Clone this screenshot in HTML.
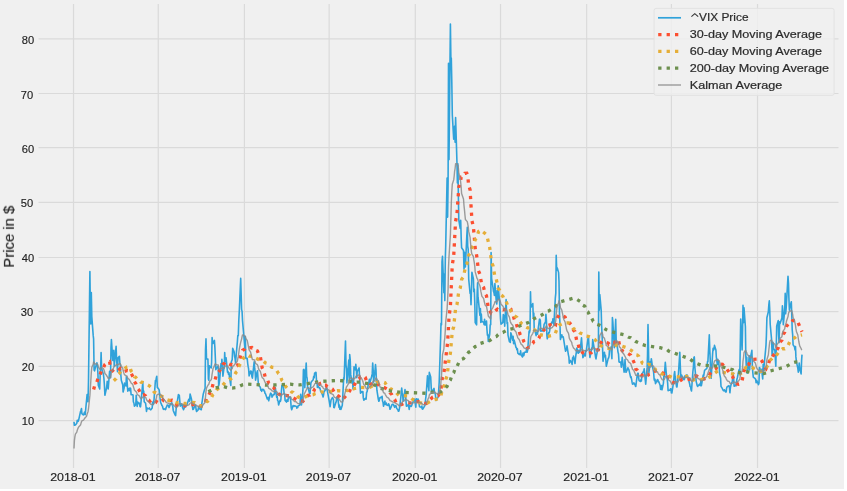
<!DOCTYPE html>
<html><head><meta charset="utf-8"><style>
html,body{margin:0;padding:0;background:#fff;}
body{width:847px;height:491px;overflow:hidden;}
svg{display:block;font-family:"Liberation Sans", sans-serif;}
text{will-change:transform;}
</style></head><body>
<svg width="847" height="491" viewBox="0 0 847 491">
<rect x="0" y="0" width="844" height="489" fill="#f0f0f0"/>
<path d="M38.5,420.56H838.5M38.5,366.40H838.5M38.5,311.56H838.5M38.5,257.50H838.5M38.5,202.43H838.5M38.5,147.60H838.5M38.5,93.49H838.5M38.5,38.85H838.5M73.51,4.0V468.0M158.25,4.0V468.0M244.40,4.0V468.0M329.15,4.0V468.0M415.30,4.0V468.0M500.51,4.0V468.0M586.66,4.0V468.0M671.40,4.0V468.0M757.55,4.0V468.0" stroke="#dadada" stroke-width="1.2" fill="none"/>
<text x="34.2" y="425.3" text-anchor="end" font-size="11" textLength="12.4" lengthAdjust="spacingAndGlyphs" fill="#222" stroke="#222" stroke-width="0.15">10</text>
<text x="34.2" y="370.6" text-anchor="end" font-size="11" textLength="12.4" lengthAdjust="spacingAndGlyphs" fill="#222" stroke="#222" stroke-width="0.15">20</text>
<text x="33.2" y="316.1" text-anchor="end" font-size="11" textLength="12.4" lengthAdjust="spacingAndGlyphs" fill="#222" stroke="#222" stroke-width="0.15">30</text>
<text x="34.2" y="261.7" text-anchor="end" font-size="11" textLength="12.4" lengthAdjust="spacingAndGlyphs" fill="#222" stroke="#222" stroke-width="0.15">40</text>
<text x="33.2" y="207.1" text-anchor="end" font-size="11" textLength="12.4" lengthAdjust="spacingAndGlyphs" fill="#222" stroke="#222" stroke-width="0.15">50</text>
<text x="34.2" y="152.8" text-anchor="end" font-size="11" textLength="12.4" lengthAdjust="spacingAndGlyphs" fill="#222" stroke="#222" stroke-width="0.15">60</text>
<text x="33.2" y="98.9" text-anchor="end" font-size="11" textLength="12.4" lengthAdjust="spacingAndGlyphs" fill="#222" stroke="#222" stroke-width="0.15">70</text>
<text x="34.2" y="44.2" text-anchor="end" font-size="11" textLength="12.4" lengthAdjust="spacingAndGlyphs" fill="#222" stroke="#222" stroke-width="0.15">80</text>
<text x="72.9" y="481.2" text-anchor="middle" font-size="11" fill="#222" stroke="#222" stroke-width="0.15" textLength="45.5" lengthAdjust="spacingAndGlyphs">2018-01</text>
<text x="157.7" y="481.2" text-anchor="middle" font-size="11" fill="#222" stroke="#222" stroke-width="0.15" textLength="45.5" lengthAdjust="spacingAndGlyphs">2018-07</text>
<text x="243.8" y="481.2" text-anchor="middle" font-size="11" fill="#222" stroke="#222" stroke-width="0.15" textLength="45.5" lengthAdjust="spacingAndGlyphs">2019-01</text>
<text x="328.5" y="481.2" text-anchor="middle" font-size="11" fill="#222" stroke="#222" stroke-width="0.15" textLength="45.5" lengthAdjust="spacingAndGlyphs">2019-07</text>
<text x="414.7" y="481.2" text-anchor="middle" font-size="11" fill="#222" stroke="#222" stroke-width="0.15" textLength="45.5" lengthAdjust="spacingAndGlyphs">2020-01</text>
<text x="499.9" y="481.2" text-anchor="middle" font-size="11" fill="#222" stroke="#222" stroke-width="0.15" textLength="45.5" lengthAdjust="spacingAndGlyphs">2020-07</text>
<text x="586.1" y="481.2" text-anchor="middle" font-size="11" fill="#222" stroke="#222" stroke-width="0.15" textLength="45.5" lengthAdjust="spacingAndGlyphs">2021-01</text>
<text x="670.8" y="481.2" text-anchor="middle" font-size="11" fill="#222" stroke="#222" stroke-width="0.15" textLength="45.5" lengthAdjust="spacingAndGlyphs">2021-07</text>
<text x="757.0" y="481.2" text-anchor="middle" font-size="11" fill="#222" stroke="#222" stroke-width="0.15" textLength="45.5" lengthAdjust="spacingAndGlyphs">2022-01</text>
<text transform="translate(13.9,236.7) rotate(-90)" text-anchor="middle" font-size="14" fill="#222" stroke="#222" stroke-width="0.18" textLength="62" lengthAdjust="spacingAndGlyphs">Price in $</text>
<path d="M74.0,421.9 L74.4,425.3 L74.9,424.9 L75.4,424.9 L76.8,423.2 L77.3,420.2 L77.7,421.6 L78.2,421.3 L78.7,419.8 L80.5,411.6 L81.0,410.2 L81.5,408.5 L81.9,413.7 L83.3,415.0 L83.8,414.6 L84.3,412.6 L84.7,412.0 L85.2,414.7 L86.6,399.7 L87.1,394.5 L87.6,401.3 L88.0,401.7 L88.5,380.7 L89.9,271.5 L90.4,311.6 L90.8,323.9 L91.3,292.6 L91.8,316.6 L93.2,335.4 L93.6,338.9 L94.1,370.1 L94.6,370.8 L95.0,369.0 L96.9,362.8 L97.4,366.0 L97.9,373.0 L98.3,385.2 L99.7,389.0 L100.2,373.8 L100.7,366.9 L101.1,352.6 L101.6,368.3 L103.0,373.0 L103.5,375.0 L103.9,378.3 L104.4,384.9 L104.9,395.3 L106.3,389.1 L106.8,386.0 L107.2,381.2 L107.7,384.7 L108.2,389.0 L109.6,371.4 L110.0,375.9 L110.5,377.7 L111.0,347.8 L111.4,339.5 L112.8,360.4 L113.3,352.4 L113.8,350.4 L114.2,366.2 L116.1,346.3 L116.6,360.1 L117.1,365.7 L117.5,371.8 L118.0,357.9 L119.4,356.4 L119.9,363.5 L120.3,364.8 L120.8,374.3 L121.3,380.2 L122.7,384.8 L123.1,392.0 L123.6,390.1 L124.1,388.1 L124.5,383.1 L125.9,386.0 L126.4,376.9 L126.9,377.8 L127.4,386.6 L127.8,391.1 L129.2,388.3 L129.7,390.7 L130.2,388.1 L130.6,388.4 L131.1,394.6 L132.5,394.7 L133.0,394.9 L133.4,402.0 L133.9,403.0 L134.4,406.2 L135.8,404.6 L136.2,395.4 L136.7,402.0 L137.2,406.5 L137.7,402.0 L139.1,403.8 L139.5,403.1 L140.0,406.6 L140.5,406.8 L140.9,403.1 L142.8,382.3 L143.3,393.7 L143.7,391.0 L144.2,401.7 L145.6,403.3 L146.1,407.5 L146.5,411.4 L147.0,407.8 L147.5,408.7 L148.9,408.8 L149.4,407.9 L149.8,409.1 L150.3,409.5 L150.8,409.8 L152.2,408.0 L152.6,402.3 L153.1,404.6 L153.6,401.2 L154.0,400.1 L155.4,380.6 L155.9,380.7 L156.4,377.5 L156.8,376.3 L157.3,387.4 L158.7,389.0 L159.2,390.1 L160.1,398.7 L160.6,402.2 L162.0,405.6 L162.5,406.2 L162.9,408.0 L163.4,409.3 L163.9,408.7 L165.3,409.7 L165.7,409.4 L166.2,407.3 L166.7,406.8 L167.2,405.0 L168.6,405.6 L169.0,407.5 L169.5,406.6 L170.0,405.2 L170.4,404.1 L171.8,402.7 L172.3,405.2 L172.8,406.6 L173.2,410.2 L173.7,411.7 L175.1,414.8 L175.6,415.6 L176.0,410.8 L176.5,404.8 L177.0,403.4 L178.4,394.5 L178.9,395.4 L179.3,395.3 L179.8,401.1 L180.3,406.2 L181.7,403.9 L182.1,405.0 L182.6,407.8 L183.1,408.6 L183.5,409.8 L184.9,406.5 L185.4,407.0 L185.9,405.5 L186.3,405.6 L186.8,405.0 L188.7,399.4 L189.2,399.3 L189.6,401.1 L190.1,394.0 L191.5,399.3 L192.0,403.1 L192.4,406.5 L192.9,409.5 L193.4,409.3 L194.8,406.0 L195.2,405.4 L195.7,406.5 L196.2,410.0 L196.6,411.5 L198.1,409.9 L198.5,407.4 L199.0,407.9 L199.5,408.6 L199.9,409.1 L201.3,409.7 L201.8,403.7 L202.3,400.5 L202.7,397.6 L203.2,394.3 L204.6,389.6 L205.1,388.2 L205.5,349.9 L206.0,338.9 L206.5,358.9 L207.9,359.0 L208.4,379.0 L208.8,380.2 L209.3,365.7 L209.8,366.7 L211.2,368.0 L211.6,362.2 L212.1,337.5 L212.6,343.0 L213.0,343.4 L214.4,340.4 L214.9,347.8 L215.4,359.3 L215.8,369.7 L216.3,368.7 L217.7,366.3 L218.2,366.6 L218.7,385.9 L219.1,384.0 L219.6,380.5 L221.0,363.6 L221.5,366.0 L221.9,359.2 L222.4,366.2 L222.9,376.2 L224.3,365.5 L224.7,352.5 L225.2,361.7 L226.1,357.8 L227.5,372.1 L228.0,371.4 L228.5,374.3 L229.0,372.7 L229.4,376.6 L230.8,385.5 L231.3,362.0 L232.2,359.6 L232.7,348.4 L234.1,351.7 L234.6,356.5 L235.0,358.1 L235.5,362.5 L236.0,357.2 L237.4,341.4 L237.8,335.6 L238.3,335.6 L238.8,320.3 L239.3,310.9 L240.7,278.4 L241.6,309.3 L242.1,311.7 L242.5,320.5 L243.9,336.5 L244.9,348.5 L245.3,336.3 L245.8,358.5 L247.2,358.4 L247.7,363.5 L248.1,366.2 L248.6,368.8 L249.1,375.9 L250.5,371.1 L251.0,373.7 L251.4,371.3 L251.9,376.6 L252.4,378.1 L254.2,361.7 L254.7,368.7 L255.2,372.1 L255.6,380.1 L257.0,372.2 L257.5,370.8 L258.0,378.8 L258.4,384.8 L258.9,385.5 L260.3,387.2 L260.8,390.2 L261.3,390.3 L261.7,391.3 L262.2,389.4 L263.6,389.6 L264.1,391.0 L264.5,391.0 L265.0,393.2 L265.5,393.8 L267.3,398.9 L267.8,398.7 L268.3,397.4 L268.7,400.8 L270.2,394.2 L270.6,393.2 L271.1,393.6 L271.6,394.5 L272.0,397.2 L273.4,394.6 L273.9,394.8 L274.4,394.0 L274.8,388.7 L275.3,387.6 L276.7,397.3 L277.2,396.2 L277.6,400.5 L278.1,401.0 L278.6,404.9 L280.0,400.4 L280.5,401.2 L280.9,399.3 L281.4,391.4 L281.9,385.3 L283.3,386.1 L283.7,389.1 L284.2,394.2 L284.7,394.3 L285.1,400.4 L286.5,402.1 L287.0,399.7 L287.5,400.2 L287.9,401.3 L288.4,397.1 L289.8,397.8 L290.3,397.3 L290.8,402.0 L291.2,407.9 L291.7,409.7 L293.1,405.5 L293.6,406.1 L294.0,406.4 L294.5,405.7 L296.4,406.4 L296.8,408.2 L297.3,406.9 L297.8,407.4 L298.2,405.7 L299.7,405.3 L300.1,403.6 L300.6,394.4 L301.1,400.9 L301.5,405.0 L302.9,390.9 L303.4,369.8 L303.9,369.3 L304.3,371.0 L304.8,387.7 L306.2,363.1 L306.7,376.6 L307.1,377.9 L307.6,386.9 L308.1,388.1 L309.5,393.2 L310.0,393.6 L310.4,388.8 L310.9,382.9 L311.4,381.8 L313.2,379.7 L313.7,376.4 L314.2,377.8 L314.6,373.1 L316.0,372.3 L316.5,380.7 L317.0,382.4 L317.4,387.4 L317.9,385.5 L319.3,388.2 L319.8,387.8 L320.3,389.6 L320.7,391.5 L321.2,391.8 L322.6,395.2 L323.1,397.0 L323.5,395.4 L324.0,391.8 L324.5,391.2 L325.9,389.0 L326.3,386.4 L326.8,388.3 L327.3,390.9 L327.7,392.9 L329.1,400.3 L329.6,403.5 L330.1,406.6 L331.0,400.2 L332.4,397.5 L332.9,398.4 L333.4,399.3 L333.8,407.4 L334.3,407.6 L335.7,402.9 L336.2,401.6 L336.6,399.0 L337.1,396.8 L337.6,396.3 L339.0,407.4 L339.4,405.1 L339.9,409.3 L340.4,407.1 L340.9,409.4 L342.3,405.2 L342.7,397.8 L343.2,387.2 L343.7,377.7 L344.1,379.1 L345.5,341.0 L346.0,365.1 L346.5,368.8 L346.9,382.9 L347.4,377.1 L348.8,360.1 L349.3,379.6 L349.7,354.6 L350.2,359.6 L350.7,374.4 L352.1,383.1 L352.6,379.7 L353.0,389.0 L353.5,384.2 L354.0,366.8 L355.4,369.8 L355.8,364.4 L356.3,369.6 L356.8,377.6 L357.2,371.6 L359.1,367.9 L359.6,378.0 L360.0,384.8 L360.5,393.3 L361.9,391.5 L362.4,392.3 L362.9,391.6 L363.3,397.9 L363.8,400.2 L365.2,398.4 L365.7,399.1 L366.1,399.1 L366.6,392.5 L367.1,391.6 L368.5,383.2 L368.9,382.2 L369.4,379.3 L369.9,383.6 L370.3,381.2 L371.8,376.1 L372.2,373.9 L372.7,363.0 L373.2,370.9 L373.6,382.2 L375.0,370.7 L375.5,364.5 L376.0,370.0 L376.4,380.4 L376.9,390.2 L378.3,399.0 L378.8,401.3 L379.2,400.7 L379.7,398.0 L380.2,397.4 L381.6,397.7 L382.1,396.3 L382.5,401.0 L383.0,402.2 L383.5,406.2 L384.9,401.1 L385.3,404.4 L385.8,404.4 L386.3,403.1 L386.7,404.9 L388.1,405.5 L388.6,403.7 L389.1,404.9 L389.5,406.3 L390.0,409.3 L391.4,406.3 L391.9,404.8 L392.4,404.3 L392.8,404.3 L393.3,404.4 L394.7,407.3 L395.2,405.9 L395.6,405.5 L396.1,406.1 L396.6,408.1 L398.0,410.1 L398.4,411.3 L398.9,411.1 L399.8,406.3 L401.2,393.8 L401.7,388.1 L402.2,392.9 L402.7,395.3 L403.1,400.9 L404.5,393.1 L405.0,389.6 L405.5,395.4 L405.9,399.5 L406.4,406.3 L407.8,405.6 L408.3,404.2 L408.7,406.6 L409.2,409.4 L409.7,405.3 L411.1,406.4 L411.6,405.9 L412.5,402.8 L413.0,401.9 L414.4,399.2 L414.8,400.0 L415.8,407.2 L416.2,398.7 L417.6,399.6 L418.1,399.1 L418.6,401.8 L419.0,402.8 L419.5,406.7 L420.9,407.1 L421.4,407.6 L421.9,406.0 L422.3,409.0 L422.8,409.2 L424.7,405.8 L425.1,404.8 L425.6,399.0 L426.1,395.7 L427.5,375.7 L427.9,386.4 L428.4,385.8 L428.9,390.7 L429.3,372.4 L430.7,377.1 L431.2,387.6 L431.7,392.5 L432.2,392.6 L432.6,390.8 L434.0,388.4 L434.5,392.4 L435.0,393.5 L435.4,394.5 L435.9,400.5 L437.8,397.5 L438.2,396.7 L438.7,390.3 L439.2,382.0 L440.6,338.6 L441.0,323.2 L441.5,324.8 L442.0,261.5 L442.5,256.3 L443.9,292.8 L444.3,274.3 L444.8,300.6 L445.3,259.0 L445.7,246.3 L447.1,178.0 L447.6,217.1 L448.1,181.1 L448.5,63.4 L449.0,159.6 L450.4,24.0 L450.9,61.0 L451.3,58.0 L451.8,82.3 L452.3,114.8 L453.7,139.1 L454.2,138.7 L454.6,126.2 L455.1,142.3 L455.6,117.5 L457.0,163.7 L457.4,183.0 L457.9,163.8 L458.4,197.4 L458.8,219.8 L460.2,228.3 L460.7,220.4 L461.2,238.6 L461.6,247.8 L463.5,250.5 L464.0,269.1 L464.5,252.3 L464.9,256.3 L465.4,267.0 L466.8,236.0 L467.3,227.4 L467.7,246.1 L468.2,249.4 L468.7,279.1 L470.1,293.5 L470.5,292.0 L471.0,304.8 L471.5,288.8 L471.9,272.3 L473.4,278.9 L473.8,291.8 L474.3,289.0 L474.8,303.6 L475.2,322.5 L476.6,324.8 L477.1,294.9 L477.6,282.7 L478.0,297.2 L478.5,301.2 L479.9,315.3 L480.4,308.6 L480.8,322.5 L481.3,314.1 L481.8,321.5 L483.7,322.3 L484.1,324.5 L484.6,319.2 L485.1,325.1 L486.5,321.1 L486.9,328.7 L487.4,335.2 L487.9,334.4 L488.3,341.4 L489.7,334.4 L490.2,324.8 L490.7,324.8 L491.1,252.6 L491.6,278.3 L493.0,287.5 L493.5,291.5 L494.0,292.6 L494.4,295.4 L494.9,283.6 L496.3,301.8 L496.8,304.0 L497.2,290.5 L497.7,299.4 L498.2,285.7 L499.6,301.8 L500.0,309.1 L500.5,319.0 L501.0,324.2 L502.8,322.7 L503.3,314.6 L503.8,322.0 L504.3,315.5 L504.7,326.3 L506.1,299.5 L506.6,314.1 L507.1,323.7 L507.5,322.4 L508.0,335.1 L509.4,341.7 L509.9,339.6 L510.3,342.5 L510.8,332.9 L511.3,334.2 L512.7,340.2 L513.1,336.4 L513.6,343.7 L514.1,340.1 L514.6,341.7 L516.0,347.5 L516.4,347.7 L516.9,349.7 L517.4,348.9 L517.8,353.1 L519.2,354.4 L519.7,353.6 L520.2,354.7 L520.6,350.9 L521.1,354.9 L522.5,357.0 L523.0,353.0 L523.5,355.7 L523.9,355.5 L524.4,352.2 L525.8,352.2 L526.3,350.8 L526.7,348.2 L527.2,352.1 L527.7,349.9 L529.1,331.1 L529.5,332.7 L530.0,330.2 L530.5,291.8 L530.9,307.4 L532.8,303.5 L533.3,318.0 L533.8,313.1 L534.2,328.6 L535.6,333.4 L536.1,335.6 L536.6,332.2 L537.0,334.2 L537.5,334.2 L538.9,323.6 L539.4,319.5 L539.8,319.2 L540.3,320.3 L540.8,331.2 L542.2,330.5 L542.6,330.7 L543.1,331.3 L543.6,328.7 L544.1,324.4 L545.5,321.9 L545.9,314.3 L546.4,320.2 L546.9,335.7 L547.3,338.8 L548.7,332.6 L549.2,332.9 L549.7,330.5 L550.1,324.7 L550.6,325.6 L552.0,321.8 L552.5,322.8 L552.9,318.9 L553.4,320.8 L553.9,324.9 L555.3,298.1 L555.8,293.2 L556.2,255.4 L556.7,270.1 L557.2,267.7 L558.6,272.6 L559.0,281.2 L559.5,313.8 L560.0,324.7 L560.4,339.5 L561.8,334.7 L562.3,337.0 L562.8,336.6 L563.2,336.9 L563.7,339.6 L565.1,348.7 L565.6,351.3 L566.1,349.9 L566.5,349.8 L567.0,345.9 L568.4,354.8 L568.9,357.1 L569.3,363.1 L570.3,360.4 L571.7,362.9 L572.1,364.4 L572.6,357.8 L573.1,359.1 L573.5,356.1 L575.0,363.5 L575.4,359.0 L575.9,355.0 L576.4,352.0 L576.8,348.0 L578.2,353.3 L578.7,350.2 L579.2,352.4 L579.6,350.7 L580.1,351.2 L581.5,337.9 L582.0,345.2 L582.4,351.5 L582.9,357.7 L584.8,353.6 L585.3,356.0 L585.7,350.5 L586.2,351.1 L588.1,337.8 L588.5,336.9 L589.0,346.8 L589.5,352.3 L589.9,357.5 L591.3,350.5 L591.8,347.9 L592.3,347.5 L592.7,339.6 L593.2,342.4 L595.1,353.9 L595.6,357.4 L596.0,358.9 L596.5,355.6 L597.9,348.7 L598.4,349.6 L598.8,272.1 L599.3,310.3 L599.8,294.6 L601.2,310.2 L601.6,325.3 L602.1,335.7 L602.6,348.7 L603.0,361.3 L604.4,352.2 L604.9,356.8 L605.4,355.2 L605.9,360.4 L606.3,366.2 L608.2,358.4 L608.7,357.9 L609.1,355.8 L609.6,348.1 L611.0,347.2 L611.5,354.3 L611.9,358.7 L612.4,317.5 L612.9,322.7 L614.3,347.8 L614.7,336.7 L615.2,329.7 L615.7,319.3 L616.2,340.6 L617.6,348.8 L618.0,352.1 L618.5,354.0 L619.0,361.6 L619.4,362.3 L620.8,362.1 L621.3,367.2 L621.8,362.6 L622.2,357.4 L622.7,361.0 L624.1,372.2 L624.6,367.9 L625.0,359.5 L625.5,367.5 L626.0,372.3 L627.4,369.3 L627.9,367.8 L628.3,369.3 L628.8,369.4 L630.7,377.5 L631.1,376.8 L631.6,379.4 L632.1,382.4 L632.5,384.1 L633.9,382.8 L634.4,384.3 L634.9,384.0 L635.4,386.0 L635.8,386.5 L637.2,375.1 L637.7,373.3 L638.2,373.2 L638.6,377.7 L639.1,380.6 L640.5,381.5 L641.0,379.5 L641.4,380.9 L641.9,373.6 L642.4,373.6 L643.8,370.5 L644.2,368.9 L644.7,374.2 L645.2,379.3 L645.7,384.1 L647.1,367.9 L647.5,356.0 L648.0,324.6 L648.5,349.0 L648.9,372.6 L650.3,361.6 L650.8,365.7 L651.3,358.7 L651.7,361.2 L652.2,365.2 L653.6,372.0 L654.1,379.0 L654.5,380.5 L655.0,379.3 L655.5,383.7 L657.4,379.6 L657.8,379.8 L658.3,382.0 L658.8,381.7 L660.2,385.6 L660.6,389.4 L661.1,388.7 L661.6,385.6 L662.0,389.8 L663.4,383.3 L663.9,375.3 L664.4,376.2 L664.8,369.4 L665.3,362.2 L666.7,377.6 L667.2,378.8 L667.7,383.7 L668.1,390.8 L668.6,390.0 L670.0,390.3 L670.5,388.7 L670.9,388.8 L671.4,392.8 L671.9,393.0 L673.7,381.3 L674.2,374.4 L674.7,371.5 L675.1,376.7 L676.6,387.0 L677.0,386.9 L677.5,382.0 L678.0,375.9 L678.4,374.5 L679.8,352.4 L680.3,366.0 L680.8,377.5 L681.2,376.0 L681.7,375.2 L683.1,379.3 L683.6,378.3 L684.0,379.7 L684.5,379.1 L685.0,375.7 L686.4,376.4 L686.9,374.8 L687.3,376.8 L687.8,377.7 L688.3,378.6 L689.7,384.0 L690.1,386.5 L690.6,386.9 L691.1,390.0 L691.5,390.9 L692.9,371.5 L693.4,367.0 L693.9,357.5 L694.3,356.9 L694.8,366.6 L696.2,381.6 L696.7,383.5 L697.2,385.7 L697.6,386.5 L698.1,385.8 L699.5,384.2 L700.0,385.3 L700.4,385.6 L700.9,380.3 L701.4,385.7 L703.2,375.1 L703.7,376.1 L704.2,372.6 L704.6,370.3 L706.0,369.0 L706.5,369.0 L707.0,368.0 L707.5,361.6 L707.9,361.6 L709.3,334.9 L709.8,350.1 L710.3,361.3 L710.7,376.3 L711.2,378.3 L712.6,353.9 L713.1,348.3 L713.5,350.2 L714.0,348.9 L714.5,345.4 L715.9,349.9 L716.3,356.8 L716.8,360.6 L717.3,364.4 L717.8,359.3 L719.2,366.1 L719.6,373.3 L720.1,375.8 L720.6,378.5 L721.0,386.3 L722.4,388.7 L722.9,389.9 L723.4,390.7 L723.8,390.8 L724.3,389.8 L725.7,392.0 L726.2,392.0 L726.6,388.2 L727.1,386.9 L727.6,386.5 L729.0,385.7 L729.5,387.7 L729.9,392.8 L730.4,387.7 L730.9,385.3 L732.3,381.2 L732.7,378.2 L733.2,373.0 L733.7,378.8 L734.1,386.3 L735.5,385.2 L736.0,385.9 L736.5,381.8 L736.9,379.2 L737.4,377.5 L738.8,370.6 L739.3,369.4 L739.8,373.8 L740.7,319.0 L742.1,349.9 L742.6,326.8 L743.0,305.4 L743.5,322.7 L744.0,307.8 L745.4,326.9 L745.8,355.7 L746.3,366.6 L746.8,357.4 L747.2,373.2 L748.7,364.4 L749.1,355.7 L749.6,369.9 L750.1,362.9 L750.5,357.5 L751.9,350.4 L752.4,367.7 L752.9,373.5 L753.3,377.2 L755.2,378.7 L755.7,379.5 L756.1,382.7 L756.6,380.6 L757.1,381.2 L758.5,384.6 L759.0,382.9 L759.4,367.5 L759.9,368.2 L760.4,372.8 L761.8,369.3 L762.2,374.7 L762.7,379.0 L763.2,364.4 L763.6,370.5 L765.5,350.8 L766.0,345.1 L766.4,335.6 L766.9,317.8 L768.3,312.0 L768.8,305.2 L769.3,300.8 L769.7,308.8 L770.2,324.3 L771.6,339.7 L772.1,355.4 L772.5,354.7 L773.0,342.3 L773.5,348.5 L774.9,350.5 L775.3,358.2 L775.8,366.3 L776.3,344.7 L776.7,325.9 L778.2,320.6 L778.6,335.0 L779.1,342.6 L779.6,321.8 L780.0,323.8 L781.9,318.0 L782.4,305.9 L782.8,309.7 L783.3,324.6 L784.7,310.7 L785.2,293.4 L785.6,313.8 L786.1,308.9 L786.6,300.7 L788.0,276.3 L788.5,283.5 L788.9,298.1 L789.4,310.2 L789.9,307.4 L791.3,301.8 L791.7,312.4 L792.2,329.7 L792.7,335.1 L793.1,344.9 L794.5,346.8 L795.0,350.0 L795.5,346.6 L795.9,356.9 L796.4,361.6 L797.8,368.1 L798.3,372.1 L798.8,369.7 L799.2,363.0 L799.7,368.1 L801.1,373.9 L801.6,360.4 L802.0,354.6" stroke="#30a2da" stroke-width="1.6" fill="none" stroke-linejoin="round"/>
<path d="M93.64,389.49 L95.05,384.08 L96.92,382.01 L98.32,377.32 L99.73,376.24 L101.60,369.95 L103.01,368.60 L104.88,364.57 L108.16,361.84 L109.56,361.53 L110.50,367.21 L111.43,369.57 L113.78,371.98 L116.58,370.74 L117.52,371.03 L120.33,368.42 L124.08,371.60 L126.88,370.55 L129.23,370.92 L130.63,372.32 L132.97,376.87 L134.38,381.61 L135.78,383.56 L137.65,388.56 L139.06,390.14 L140.93,394.70 L143.74,394.71 L145.61,395.83 L147.49,399.44 L148.89,400.03 L150.76,402.72 L153.10,403.74 L154.04,403.62 L155.44,402.77 L157.32,399.88 L159.19,398.99 L162.00,398.66 L163.87,400.74 L165.75,401.21 L172.30,400.12 L173.24,400.45 L175.11,401.29 L176.98,405.28 L180.26,406.11 L188.69,405.53 L190.09,404.70 L194.77,404.47 L196.18,403.83 L198.05,404.27 L199.92,405.82 L201.80,405.93 L205.07,403.68 L206.48,398.00 L208.82,395.15 L209.76,393.06 L211.16,392.02 L213.03,383.95 L214.44,381.76 L216.31,375.50 L220.99,368.64 L222.87,364.35 L224.27,363.55 L224.74,362.36 L228.02,364.24 L228.95,363.82 L230.83,364.81 L232.23,364.53 L234.10,365.18 L235.98,366.62 L237.38,365.68 L238.32,363.55 L242.53,350.37 L244.87,349.03 L245.81,347.46 L249.08,348.04 L251.89,347.50 L252.36,348.04 L254.24,348.11 L255.64,350.25 L257.51,351.00 L258.92,354.83 L260.32,356.55 L262.19,367.97 L263.60,370.56 L265.47,378.14 L267.34,379.48 L268.75,383.11 L270.15,383.96 L272.03,386.84 L273.43,387.44 L275.30,390.26 L276.71,390.83 L278.58,394.03 L280.92,395.29 L283.73,395.00 L289.82,395.94 L297.78,400.51 L301.06,400.61 L302.93,401.25 L308.08,395.35 L309.95,395.08 L311.36,393.29 L313.23,392.29 L314.63,389.27 L316.04,388.16 L317.91,385.06 L320.25,383.43 L322.59,382.70 L324.47,385.18 L325.87,385.22 L327.27,386.82 L332.42,389.08 L334.30,392.31 L335.70,393.30 L337.11,395.37 L338.98,396.40 L340.85,398.86 L342.72,399.39 L346.47,395.00 L348.81,393.27 L350.68,388.52 L353.03,387.07 L357.24,380.15 L359.11,378.83 L360.52,376.65 L362.86,375.42 L365.20,377.16 L366.60,381.02 L369.41,382.24 L370.35,383.92 L371.75,383.98 L373.16,382.51 L375.50,382.40 L378.31,384.28 L379.71,386.59 L384.86,387.82 L388.14,389.71 L390.01,392.98 L391.42,393.98 L392.82,397.50 L394.70,399.46 L396.10,402.88 L398.91,404.53 L401.25,404.68 L405.93,402.74 L412.49,402.86 L420.91,401.05 L422.79,402.74 L426.06,403.62 L427.47,402.96 L429.34,400.28 L432.62,397.19 L435.90,395.79 L438.24,395.65 L440.58,392.56 L442.45,377.18 L443.86,373.30 L447.60,342.81 L449.01,317.51 L450.41,305.90 L452.28,264.77 L453.69,256.39 L455.56,221.59 L456.97,213.69 L458.84,186.94 L460.24,183.27 L461.18,176.97 L463.52,176.32 L464.93,173.32 L466.80,173.24 L467.73,175.86 L468.67,185.33 L470.08,189.79 L471.95,220.88 L473.35,226.35 L475.23,248.37 L476.63,255.28 L478.50,270.88 L479.91,274.06 L481.78,285.11 L483.65,287.51 L485.06,293.87 L486.46,295.68 L488.34,308.37 L490.68,312.34 L491.61,310.25 L494.42,311.41 L497.23,309.22 L497.70,309.77 L500.04,309.20 L502.85,309.90 L504.72,309.59 L507.53,307.91 L509.40,307.95 L510.81,308.99 L511.28,311.70 L512.68,313.77 L514.55,320.27 L515.96,322.40 L517.83,329.19 L519.24,331.48 L520.17,334.73 L521.11,336.81 L522.51,337.95 L523.92,341.69 L527.66,347.83 L529.54,347.25 L530.94,344.57 L532.81,343.35 L533.75,341.72 L535.62,341.06 L538.90,338.16 L540.31,334.70 L542.18,333.23 L544.05,329.70 L545.46,328.69 L546.39,326.41 L547.33,325.55 L550.14,324.78 L550.61,325.90 L553.42,327.31 L555.29,326.01 L557.16,317.68 L559.50,314.52 L562.78,315.47 L565.12,317.14 L566.06,319.37 L568.40,320.81 L569.33,322.70 L571.67,325.13 L573.55,330.24 L574.95,331.53 L576.83,341.44 L578.23,344.29 L579.63,350.48 L580.10,351.36 L581.51,351.30 L582.91,352.84 L585.25,353.94 L591.34,352.70 L593.21,350.43 L598.36,349.75 L599.77,343.94 L602.11,341.17 L603.04,342.07 L605.39,342.12 L608.19,343.04 L609.13,344.34 L611.94,344.38 L612.88,342.54 L614.75,342.62 L616.15,339.93 L617.56,339.70 L618.49,339.96 L619.43,344.68 L622.24,350.79 L625.99,352.98 L627.39,353.09 L630.67,355.22 L634.41,363.27 L635.82,368.97 L637.22,370.12 L639.10,373.06 L640.50,373.70 L642.37,375.64 L644.71,376.05 L645.65,377.27 L647.05,377.12 L648.46,374.56 L650.33,374.13 L652.21,371.74 L655.48,370.77 L660.16,371.73 L664.38,373.72 L666.72,372.77 L667.66,374.06 L668.59,377.63 L670.00,378.22 L671.87,382.09 L673.74,382.63 L677.96,382.64 L681.70,379.60 L683.57,379.08 L686.38,380.01 L691.53,378.82 L694.81,376.25 L696.68,375.96 L701.37,379.27 L703.71,379.06 L706.98,377.83 L709.33,375.34 L710.26,373.37 L713.54,370.06 L715.88,368.84 L717.75,365.63 L720.56,364.06 L722.44,364.36 L724.31,366.59 L725.71,367.36 L728.99,372.16 L729.93,374.46 L732.27,375.99 L734.14,380.10 L737.42,384.05 L738.82,384.21 L739.76,384.01 L740.70,382.03 L742.10,380.82 L743.97,370.90 L746.78,365.73 L748.65,364.53 L750.53,360.94 L752.40,359.33 L760.36,358.99 L762.23,361.49 L763.64,366.79 L765.98,368.83 L766.91,366.53 L768.32,365.02 L770.19,357.55 L772.53,356.84 L773.47,355.16 L775.81,353.15 L776.75,350.05 L778.15,348.03 L780.02,342.03 L781.90,340.20 L783.30,334.11 L784.71,332.32 L786.58,326.15 L788.45,323.81 L789.86,323.85 L791.26,323.10 L792.67,320.68 L795.01,320.70 L795.94,320.00 L797.82,321.97 L802.03,331.77" stroke="#fc4f30" stroke-width="3.3" stroke-dasharray="3.3 5.1" fill="none"/>
<path d="M113.78,380.73 L116.12,378.49 L117.99,374.53 L119.39,373.44 L121.27,370.44 L122.67,370.05 L126.88,366.91 L129.23,366.38 L129.69,366.55 L131.10,370.95 L132.50,372.65 L134.38,376.73 L135.78,377.30 L137.65,379.55 L139.53,380.09 L140.93,382.14 L142.80,382.38 L149.36,385.80 L152.17,388.53 L154.04,391.95 L158.72,394.01 L160.60,395.78 L165.28,398.08 L167.15,399.83 L176.51,402.87 L182.13,402.39 L183.54,403.38 L185.41,403.52 L191.96,402.38 L194.77,402.64 L199.46,405.73 L201.80,405.99 L205.07,404.80 L206.48,401.87 L207.88,401.10 L209.76,398.88 L211.16,398.28 L213.03,394.30 L214.44,393.12 L216.31,389.77 L220.99,387.29 L225.21,382.27 L229.42,379.08 L230.83,378.94 L234.10,375.66 L235.98,372.44 L237.38,371.30 L239.25,365.73 L241.59,361.90 L242.53,358.88 L244.87,356.99 L245.81,355.51 L247.21,355.01 L249.08,356.14 L254.24,356.32 L255.64,357.93 L258.92,359.70 L263.60,361.23 L265.47,362.92 L267.34,363.47 L268.75,365.56 L272.03,367.32 L273.43,367.47 L275.30,369.86 L276.71,370.54 L278.58,373.60 L279.99,374.68 L281.86,380.21 L283.26,381.49 L285.14,385.84 L288.41,389.46 L290.29,390.30 L291.69,392.03 L293.10,392.51 L294.50,394.34 L296.37,394.91 L298.25,397.01 L301.52,398.20 L302.93,398.19 L307.61,395.80 L313.23,394.75 L314.63,393.82 L321.19,391.82 L324.00,392.28 L327.74,391.41 L332.42,391.62 L337.57,390.73 L344.13,391.28 L346.00,390.40 L347.41,390.59 L349.28,390.00 L350.68,388.55 L353.49,388.81 L360.05,387.39 L368.48,387.94 L371.75,386.25 L376.44,382.28 L382.05,381.35 L384.86,382.49 L386.27,384.77 L388.14,385.61 L390.01,388.45 L394.70,391.02 L398.91,395.34 L407.80,395.92 L412.95,399.58 L418.57,402.53 L425.13,403.62 L427.47,402.93 L432.62,400.06 L438.24,398.84 L440.58,396.95 L442.45,389.34 L443.86,387.75 L445.73,379.38 L447.13,375.86 L449.01,359.43 L450.41,353.09 L452.28,331.23 L453.69,326.79 L455.56,308.80 L456.97,304.74 L458.84,290.82 L460.24,287.91 L461.65,279.34 L463.52,276.75 L465.39,267.01 L466.80,264.30 L468.67,255.27 L470.08,253.65 L471.95,247.46 L473.35,245.56 L475.23,239.59 L476.63,238.43 L478.50,231.61 L481.31,229.81 L481.78,230.81 L486.46,234.63 L486.93,236.01 L489.74,247.77 L491.61,262.40 L493.02,265.82 L494.89,276.55 L496.29,279.21 L498.17,288.40 L499.57,290.14 L500.98,294.87 L502.85,296.28 L504.72,300.59 L506.13,301.31 L508.00,306.62 L510.81,310.66 L512.68,312.01 L514.55,315.84 L516.90,317.41 L517.83,319.48 L519.24,320.43 L521.11,323.21 L522.51,323.92 L524.39,326.07 L527.66,327.88 L530.00,327.78 L530.47,327.23 L530.94,328.14 L532.81,328.56 L535.62,330.66 L537.50,333.27 L540.77,334.92 L545.46,335.62 L547.33,336.44 L552.01,335.48 L555.29,333.53 L557.16,328.41 L559.97,324.68 L563.72,322.97 L568.40,322.89 L571.67,325.52 L573.55,328.77 L578.23,330.98 L580.10,333.01 L584.78,334.57 L586.19,336.18 L589.00,336.63 L595.08,339.66 L596.49,341.80 L597.89,342.73 L598.36,344.30 L599.77,345.41 L604.45,347.12 L606.32,348.40 L611.94,348.54 L612.88,347.15 L614.28,346.88 L616.15,345.04 L618.03,344.82 L627.39,347.94 L633.95,352.29 L635.82,354.75 L637.22,355.02 L638.63,356.19 L639.10,358.00 L640.50,359.19 L642.37,363.22 L644.25,363.71 L645.65,364.93 L647.05,365.05 L648.46,364.17 L651.74,365.10 L654.08,367.23 L655.48,369.87 L657.36,370.52 L662.04,374.05 L667.19,375.13 L671.87,377.23 L675.15,376.71 L678.42,376.91 L681.70,376.03 L686.85,376.34 L691.53,379.93 L693.41,380.13 L694.81,379.29 L699.96,379.64 L706.98,378.87 L717.75,371.03 L719.16,370.89 L727.59,373.63 L733.20,373.90 L734.14,374.75 L736.01,375.13 L738.82,374.59 L742.10,372.54 L743.97,368.42 L746.78,367.26 L750.06,368.21 L751.93,367.43 L758.95,371.61 L762.70,370.99 L765.51,369.57 L766.91,366.64 L768.32,365.37 L770.19,360.24 L773.47,357.17 L775.81,356.11 L780.02,350.53 L782.83,348.71 L784.71,348.76 L786.11,348.07 L787.98,345.65 L789.86,341.46 L792.20,339.02 L794.54,337.94 L796.41,336.22 L802.03,334.93" stroke="#e5ae38" stroke-width="3.3" stroke-dasharray="3.3 5.1" fill="none"/>
<path d="M208.35,391.82 L216.31,387.85 L222.40,386.21 L228.48,388.01 L232.23,388.10 L237.38,387.44 L242.53,384.73 L245.81,384.03 L268.75,385.25 L290.29,384.06 L294.50,384.81 L299.65,384.96 L321.19,381.38 L337.57,380.38 L342.26,380.73 L344.13,381.40 L348.81,381.27 L353.49,382.24 L359.11,382.11 L372.69,384.54 L375.50,385.32 L380.18,388.24 L390.01,390.77 L398.91,392.16 L425.60,393.25 L432.62,392.17 L440.58,391.78 L442.45,390.12 L443.86,389.69 L447.13,386.23 L449.01,381.73 L450.41,379.97 L452.28,374.00 L453.69,372.76 L455.56,367.63 L456.97,366.49 L458.84,362.41 L460.24,361.60 L461.65,359.30 L463.52,358.61 L465.39,355.90 L466.80,355.04 L468.67,352.08 L470.08,351.51 L475.23,346.59 L476.63,346.18 L478.50,344.06 L489.74,340.55 L494.89,336.95 L496.29,336.54 L498.17,334.59 L500.98,332.88 L502.85,332.50 L507.53,329.84 L512.68,328.70 L529.07,322.21 L530.94,320.41 L532.81,319.90 L534.22,318.58 L542.18,314.76 L547.33,311.24 L548.73,310.89 L555.29,306.91 L557.16,304.19 L560.44,301.78 L573.55,298.17 L575.89,298.63 L581.51,302.26 L582.91,305.23 L584.78,306.20 L586.19,310.77 L588.06,312.05 L589.93,316.42 L591.34,317.46 L593.21,321.21 L595.08,321.99 L596.49,324.01 L601.17,325.86 L603.04,327.83 L606.32,329.69 L611.94,331.86 L625.05,335.03 L628.80,337.31 L630.67,337.74 L635.82,341.61 L642.37,344.55 L645.65,345.53 L660.16,347.71 L666.72,349.42 L668.59,351.03 L671.87,352.59 L673.74,352.82 L689.66,358.83 L694.81,362.78 L701.37,365.19 L719.63,366.15 L732.74,369.85 L734.14,371.15 L737.42,372.30 L739.76,372.54 L745.85,371.37 L750.53,372.55 L763.64,373.55 L768.32,372.36 L770.19,370.87 L784.71,367.21 L793.13,362.69 L796.41,361.84 L802.03,361.43" stroke="#6d904f" stroke-width="3.3" stroke-dasharray="3.3 5.1" fill="none"/>
<path d="M74.0,448.5 L74.4,440.7 L74.9,436.6 L75.4,434.1 L76.8,432.2 L77.3,430.2 L77.7,429.0 L78.2,427.9 L78.7,426.9 L80.5,425.1 L81.0,423.4 L81.5,421.7 L81.9,420.8 L83.3,420.2 L83.8,419.6 L84.3,418.9 L84.7,418.2 L85.2,417.9 L86.6,416.1 L87.1,414.0 L87.6,412.7 L88.0,411.7 L88.5,408.7 L89.9,395.4 L90.4,387.4 L90.8,381.3 L91.3,372.8 L91.8,367.4 L93.2,364.3 L93.6,361.9 L94.1,362.7 L94.6,363.5 L95.0,364.0 L96.9,363.9 L97.4,364.1 L97.9,364.9 L98.3,366.9 L99.7,369.0 L100.2,369.4 L100.7,369.2 L101.1,367.6 L101.6,367.7 L103.0,368.2 L103.5,368.8 L103.9,369.7 L104.4,371.2 L104.9,373.5 L106.3,375.0 L106.8,376.0 L107.2,376.5 L107.7,377.3 L108.2,378.4 L109.6,377.7 L110.0,377.5 L110.5,377.6 L111.0,374.7 L111.4,371.4 L112.8,370.3 L113.3,368.6 L113.8,366.9 L114.2,366.8 L116.1,364.9 L116.6,364.4 L117.1,364.6 L117.5,365.2 L118.0,364.5 L119.4,363.8 L119.9,363.7 L120.3,363.8 L120.8,364.8 L121.3,366.3 L122.7,368.1 L123.1,370.3 L123.6,372.2 L124.1,373.7 L124.5,374.6 L125.9,375.7 L126.4,375.8 L126.9,376.0 L127.4,377.0 L127.8,378.4 L129.2,379.3 L129.7,380.4 L130.2,381.1 L130.6,381.8 L131.1,383.0 L132.5,384.1 L133.0,385.2 L133.4,386.8 L133.9,388.3 L134.4,390.0 L135.8,391.4 L136.2,391.8 L136.7,392.7 L137.2,394.1 L137.7,394.8 L139.1,395.7 L139.5,396.4 L140.0,397.3 L140.5,398.2 L140.9,398.7 L142.8,397.1 L143.3,396.8 L143.7,396.3 L144.2,396.8 L145.6,397.4 L146.1,398.4 L146.5,399.6 L147.0,400.4 L147.5,401.2 L148.9,401.9 L149.4,402.5 L149.8,403.1 L150.3,403.7 L150.8,404.3 L152.2,404.6 L152.6,404.4 L153.1,404.4 L153.6,404.1 L154.0,403.7 L155.4,401.5 L155.9,399.6 L156.4,397.5 L156.8,395.4 L157.3,394.7 L158.7,394.1 L159.2,393.8 L160.1,394.2 L160.6,395.0 L162.0,396.0 L162.5,397.0 L162.9,398.0 L163.4,399.1 L163.9,400.0 L165.3,400.9 L165.7,401.7 L166.2,402.3 L166.7,402.7 L167.2,402.9 L168.6,403.2 L169.0,403.6 L169.5,403.9 L170.0,404.0 L170.4,404.0 L171.8,403.9 L172.3,404.0 L172.8,404.3 L173.2,404.8 L173.7,405.5 L175.1,406.4 L175.6,407.2 L176.0,407.6 L176.5,407.3 L177.0,406.9 L178.4,405.8 L178.9,404.8 L179.3,403.9 L179.8,403.6 L180.3,403.9 L181.7,403.9 L182.1,404.0 L182.6,404.3 L183.1,404.7 L183.5,405.2 L184.9,405.3 L185.4,405.5 L185.9,405.5 L186.3,405.5 L186.8,405.5 L188.7,404.9 L189.2,404.4 L189.6,404.0 L190.1,403.1 L191.5,402.7 L192.0,402.8 L192.4,403.1 L192.9,403.7 L193.4,404.3 L194.8,404.4 L195.2,404.5 L195.7,404.7 L196.2,405.2 L196.6,405.8 L198.1,406.2 L198.5,406.3 L199.0,406.5 L199.5,406.7 L199.9,406.9 L201.3,407.2 L201.8,406.8 L202.3,406.2 L202.7,405.4 L203.2,404.4 L204.6,403.0 L205.1,401.5 L205.5,396.6 L206.0,391.1 L206.5,388.1 L207.9,385.3 L208.4,384.7 L208.8,384.3 L209.3,382.5 L209.8,381.0 L211.2,379.8 L211.6,378.1 L212.1,374.2 L212.6,371.3 L213.0,368.6 L214.4,365.9 L214.9,364.2 L215.4,363.7 L215.8,364.3 L216.3,364.7 L217.7,364.9 L218.2,365.0 L218.7,367.0 L219.1,368.6 L219.6,369.8 L221.0,369.2 L221.5,368.9 L221.9,368.0 L222.4,367.8 L222.9,368.6 L224.3,368.3 L224.7,366.8 L225.2,366.3 L226.1,365.5 L227.5,366.1 L228.0,366.6 L228.5,367.4 L229.0,367.9 L229.4,368.7 L230.8,370.3 L231.3,369.5 L232.2,368.6 L232.7,366.6 L234.1,365.2 L234.6,364.4 L235.0,363.8 L235.5,363.7 L236.0,363.0 L237.4,361.0 L237.8,358.6 L238.3,356.4 L238.8,353.0 L239.3,349.0 L240.7,342.2 L241.6,339.1 L242.1,336.5 L242.5,335.0 L243.9,335.1 L244.9,336.4 L245.3,336.4 L245.8,338.5 L247.2,340.4 L247.7,342.6 L248.1,344.8 L248.6,347.1 L249.1,349.9 L250.5,351.9 L251.0,354.0 L251.4,355.6 L251.9,357.6 L252.4,359.6 L254.2,359.8 L254.7,360.6 L255.2,361.7 L255.6,363.5 L257.0,364.3 L257.5,364.9 L258.0,366.2 L258.4,368.0 L258.9,369.7 L260.3,371.3 L260.8,373.1 L261.3,374.8 L261.7,376.3 L262.2,377.6 L263.6,378.7 L264.1,379.9 L264.5,380.9 L265.0,382.1 L265.5,383.2 L267.3,384.7 L267.8,386.1 L268.3,387.1 L268.7,388.4 L270.2,389.0 L270.6,389.4 L271.1,389.8 L271.6,390.2 L272.0,390.9 L273.4,391.3 L273.9,391.6 L274.4,391.8 L274.8,391.5 L275.3,391.1 L276.7,391.7 L277.2,392.2 L277.6,393.0 L278.1,393.7 L278.6,394.8 L280.0,395.3 L280.5,395.9 L280.9,396.2 L281.4,395.8 L281.9,394.8 L283.3,393.9 L283.7,393.5 L284.2,393.5 L284.7,393.6 L285.1,394.3 L286.5,395.0 L287.0,395.5 L287.5,395.9 L287.9,396.4 L288.4,396.5 L289.8,396.6 L290.3,396.7 L290.8,397.2 L291.2,398.2 L291.7,399.3 L293.1,399.9 L293.6,400.5 L294.0,401.0 L294.5,401.5 L296.4,401.9 L296.8,402.5 L297.3,403.0 L297.8,403.4 L298.2,403.6 L299.7,403.8 L300.1,403.7 L300.6,402.9 L301.1,402.7 L301.5,402.9 L302.9,401.8 L303.4,398.7 L303.9,395.9 L304.3,393.5 L304.8,393.0 L306.2,390.1 L306.7,388.9 L307.1,387.8 L307.6,387.7 L308.1,387.8 L309.5,388.3 L310.0,388.8 L310.4,388.8 L310.9,388.2 L311.4,387.6 L313.2,386.9 L313.7,385.9 L314.2,385.1 L314.6,384.0 L316.0,382.8 L316.5,382.6 L317.0,382.6 L317.4,383.1 L317.9,383.3 L319.3,383.8 L319.8,384.2 L320.3,384.7 L320.7,385.3 L321.2,385.9 L322.6,386.8 L323.1,387.8 L323.5,388.5 L324.0,388.8 L324.5,389.1 L325.9,389.0 L326.3,388.8 L326.8,388.7 L327.3,388.9 L327.7,389.3 L329.1,390.4 L329.6,391.6 L330.1,393.0 L331.0,393.7 L332.4,394.1 L332.9,394.5 L333.4,395.0 L333.8,396.1 L334.3,397.2 L335.7,397.8 L336.2,398.1 L336.6,398.2 L337.1,398.1 L337.6,397.9 L339.0,398.8 L339.4,399.4 L339.9,400.4 L340.4,401.0 L340.9,401.8 L342.3,402.1 L342.7,401.7 L343.2,400.3 L343.7,398.2 L344.1,396.4 L345.5,391.1 L346.0,388.6 L346.5,386.7 L346.9,386.4 L347.4,385.5 L348.8,383.1 L349.3,382.8 L349.7,380.1 L350.2,378.1 L350.7,377.8 L352.1,378.3 L352.6,378.4 L353.0,379.4 L353.5,379.9 L354.0,378.6 L355.4,377.8 L355.8,376.5 L356.3,375.9 L356.8,376.0 L357.2,375.6 L359.1,374.9 L359.6,375.2 L360.0,376.1 L360.5,377.7 L361.9,379.0 L362.4,380.3 L362.9,381.4 L363.3,382.9 L363.8,384.6 L365.2,385.9 L365.7,387.1 L366.1,388.3 L366.6,388.7 L367.1,389.0 L368.5,388.4 L368.9,387.8 L369.4,387.0 L369.9,386.7 L370.3,386.2 L371.8,385.2 L372.2,384.1 L372.7,382.1 L373.2,381.1 L373.6,381.2 L375.0,380.2 L375.5,378.7 L376.0,377.9 L376.4,378.1 L376.9,379.2 L378.3,381.1 L378.8,383.0 L379.2,384.7 L379.7,386.0 L380.2,387.1 L381.6,388.1 L382.1,388.9 L382.5,390.0 L383.0,391.2 L383.5,392.6 L384.9,393.4 L385.3,394.5 L385.8,395.4 L386.3,396.1 L386.7,397.0 L388.1,397.8 L388.6,398.3 L389.1,399.0 L389.5,399.7 L390.0,400.6 L391.4,401.1 L391.9,401.5 L392.4,401.7 L392.8,402.0 L393.3,402.2 L394.7,402.7 L395.2,403.0 L395.6,403.2 L396.1,403.5 L396.6,403.9 L398.0,404.5 L398.4,405.2 L398.9,405.7 L399.8,405.8 L401.2,404.7 L401.7,403.1 L402.2,402.1 L402.7,401.5 L403.1,401.4 L404.5,400.6 L405.0,399.6 L405.5,399.2 L405.9,399.2 L406.4,399.9 L407.8,400.4 L408.3,400.8 L408.7,401.3 L409.2,402.1 L409.7,402.4 L411.1,402.8 L411.6,403.1 L412.5,403.1 L413.0,402.9 L414.4,402.6 L414.8,402.3 L415.8,402.8 L416.2,402.4 L417.6,402.1 L418.1,401.9 L418.6,401.9 L419.0,401.9 L419.5,402.4 L420.9,402.8 L421.4,403.3 L421.9,403.5 L422.3,404.1 L422.8,404.6 L424.7,404.7 L425.1,404.7 L425.6,404.1 L426.1,403.3 L427.5,400.7 L427.9,399.4 L428.4,398.1 L428.9,397.4 L429.3,395.0 L430.7,393.3 L431.2,392.7 L431.7,392.7 L432.2,392.7 L432.6,392.5 L434.0,392.1 L434.5,392.2 L435.0,392.3 L435.4,392.5 L435.9,393.3 L437.8,393.7 L438.2,394.0 L438.7,393.6 L439.2,392.5 L440.6,387.4 L441.0,381.3 L441.5,375.9 L442.0,365.0 L442.5,354.7 L443.9,348.8 L444.3,341.7 L444.8,337.8 L445.3,330.3 L445.7,322.3 L447.1,308.6 L447.6,299.9 L448.1,288.6 L448.5,267.2 L449.0,256.9 L450.4,234.8 L450.9,218.2 L451.3,203.0 L451.8,191.5 L452.3,184.2 L453.7,179.9 L454.2,176.0 L454.6,171.3 L455.1,168.5 L455.6,163.7 L457.0,163.7 L457.4,165.5 L457.9,165.4 L458.4,168.4 L458.8,173.3 L460.2,178.5 L460.7,182.5 L461.2,187.8 L461.6,193.5 L463.5,199.0 L464.0,205.6 L464.5,210.1 L464.9,214.5 L465.4,219.5 L466.8,221.1 L467.3,221.7 L467.7,224.0 L468.2,226.4 L468.7,231.4 L470.1,237.3 L470.5,242.5 L471.0,248.4 L471.5,252.3 L471.9,254.2 L473.4,256.5 L473.8,259.9 L474.3,262.7 L474.8,266.6 L475.2,271.9 L476.6,276.9 L477.1,278.6 L477.6,279.0 L478.0,280.7 L478.5,282.7 L479.9,285.8 L480.4,288.0 L480.8,291.2 L481.3,293.4 L481.8,296.1 L483.7,298.6 L484.1,301.0 L484.6,302.8 L485.1,304.9 L486.5,306.4 L486.9,308.6 L487.4,311.1 L487.9,313.3 L488.3,316.0 L489.7,317.7 L490.2,318.4 L490.7,319.0 L491.1,312.7 L491.6,309.4 L493.0,307.3 L493.5,305.8 L494.0,304.6 L494.4,303.7 L494.9,301.8 L496.3,301.8 L496.8,302.0 L497.2,300.9 L497.7,300.8 L498.2,299.3 L499.6,299.6 L500.0,300.5 L500.5,302.2 L501.0,304.3 L502.8,306.1 L503.3,306.9 L503.8,308.3 L504.3,309.0 L504.7,310.6 L506.1,309.6 L506.6,310.0 L507.1,311.3 L507.5,312.4 L508.0,314.5 L509.4,317.1 L509.9,319.3 L510.3,321.5 L510.8,322.6 L511.3,323.7 L512.7,325.2 L513.1,326.3 L513.6,328.0 L514.1,329.1 L514.6,330.3 L516.0,331.9 L516.4,333.4 L516.9,335.0 L517.4,336.3 L517.8,337.9 L519.2,339.5 L519.7,340.8 L520.2,342.1 L520.6,343.0 L521.1,344.1 L522.5,345.3 L523.0,346.1 L523.5,347.0 L523.9,347.8 L524.4,348.2 L525.8,348.6 L526.3,348.8 L526.7,348.7 L527.2,349.1 L527.7,349.1 L529.1,347.4 L529.5,346.0 L530.0,344.5 L530.5,339.5 L530.9,336.5 L532.8,333.3 L533.3,331.9 L533.8,330.1 L534.2,329.9 L535.6,330.3 L536.1,330.8 L536.6,330.9 L537.0,331.2 L537.5,331.5 L538.9,330.8 L539.4,329.7 L539.8,328.7 L540.3,327.9 L540.8,328.2 L542.2,328.4 L542.6,328.7 L543.1,328.9 L543.6,328.9 L544.1,328.5 L545.5,327.8 L545.9,326.6 L546.4,325.9 L546.9,326.9 L547.3,328.0 L548.7,328.4 L549.2,328.9 L549.7,329.0 L550.1,328.6 L550.6,328.3 L552.0,327.7 L552.5,327.2 L552.9,326.4 L553.4,325.9 L553.9,325.8 L555.3,323.2 L555.8,320.3 L556.2,314.1 L556.7,309.9 L557.2,305.9 L558.6,302.8 L559.0,300.7 L559.5,302.0 L560.0,304.1 L560.4,307.5 L561.8,310.1 L562.3,312.6 L562.8,314.9 L563.2,317.0 L563.7,319.2 L565.1,322.0 L565.6,324.8 L566.1,327.2 L566.5,329.3 L567.0,330.9 L568.4,333.2 L568.9,335.4 L569.3,338.1 L570.3,340.2 L571.7,342.4 L572.1,344.4 L572.6,345.7 L573.1,347.0 L573.5,347.9 L575.0,349.3 L575.4,350.3 L575.9,350.7 L576.4,350.8 L576.8,350.6 L578.2,350.8 L578.7,350.8 L579.2,350.9 L579.6,350.9 L580.1,350.9 L581.5,349.7 L582.0,349.3 L582.4,349.5 L582.9,350.2 L584.8,350.6 L585.3,351.1 L585.7,351.0 L586.2,351.0 L588.1,349.8 L588.5,348.5 L589.0,348.4 L589.5,348.8 L589.9,349.6 L591.3,349.7 L591.8,349.5 L592.3,349.3 L592.7,348.4 L593.2,347.8 L595.1,348.4 L595.6,349.3 L596.0,350.2 L596.5,350.7 L597.9,350.5 L598.4,350.4 L598.8,343.0 L599.3,339.9 L599.8,335.6 L601.2,333.2 L601.6,332.4 L602.1,332.7 L602.6,334.2 L603.0,336.8 L604.4,338.3 L604.9,340.0 L605.4,341.5 L605.9,343.3 L606.3,345.5 L608.2,346.7 L608.7,347.8 L609.1,348.5 L609.6,348.5 L611.0,348.4 L611.5,348.9 L611.9,349.9 L612.4,346.8 L612.9,344.5 L614.3,344.8 L614.7,344.0 L615.2,342.7 L615.7,340.4 L616.2,340.5 L617.6,341.3 L618.0,342.3 L618.5,343.4 L619.0,345.1 L619.4,346.8 L620.8,348.2 L621.3,350.0 L621.8,351.2 L622.2,351.8 L622.7,352.7 L624.1,354.5 L624.6,355.8 L625.0,356.2 L625.5,357.2 L626.0,358.7 L627.4,359.7 L627.9,360.5 L628.3,361.3 L628.8,362.1 L630.7,363.5 L631.1,364.8 L631.6,366.2 L632.1,367.7 L632.5,369.3 L633.9,370.6 L634.4,371.9 L634.9,373.0 L635.4,374.3 L635.8,375.4 L637.2,375.4 L637.7,375.2 L638.2,375.0 L638.6,375.3 L639.1,375.8 L640.5,376.3 L641.0,376.6 L641.4,377.0 L641.9,376.7 L642.4,376.4 L643.8,375.8 L644.2,375.2 L644.7,375.1 L645.2,375.5 L645.7,376.3 L647.1,375.5 L647.5,373.7 L648.0,369.0 L648.5,367.1 L648.9,367.6 L650.3,367.0 L650.8,366.9 L651.3,366.1 L651.7,365.7 L652.2,365.6 L653.6,366.2 L654.1,367.4 L654.5,368.7 L655.0,369.7 L655.5,371.0 L657.4,371.8 L657.8,372.6 L658.3,373.5 L658.8,374.3 L660.2,375.4 L660.6,376.7 L661.1,377.8 L661.6,378.6 L662.0,379.6 L663.4,380.0 L663.9,379.5 L664.4,379.2 L664.8,378.3 L665.3,376.8 L666.7,376.8 L667.2,377.0 L667.7,377.7 L668.1,378.9 L668.6,380.0 L670.0,380.9 L670.5,381.7 L670.9,382.4 L671.4,383.4 L671.9,384.3 L673.7,384.0 L674.2,383.1 L674.7,382.0 L675.1,381.5 L676.6,382.0 L677.0,382.5 L677.5,382.4 L678.0,381.8 L678.4,381.1 L679.8,378.4 L680.3,377.2 L680.8,377.2 L681.2,377.1 L681.7,376.9 L683.1,377.2 L683.6,377.3 L684.0,377.5 L684.5,377.6 L685.0,377.5 L686.4,377.4 L686.9,377.1 L687.3,377.1 L687.8,377.1 L688.3,377.3 L689.7,377.9 L690.1,378.7 L690.6,379.5 L691.1,380.5 L691.5,381.5 L692.9,380.5 L693.4,379.3 L693.9,377.2 L694.3,375.3 L694.8,374.4 L696.2,375.1 L696.7,375.9 L697.2,376.9 L697.6,377.8 L698.1,378.5 L699.5,379.1 L700.0,379.7 L700.4,380.2 L700.9,380.2 L701.4,380.7 L703.2,380.2 L703.7,379.8 L704.2,379.1 L704.6,378.3 L706.0,377.4 L706.5,376.6 L707.0,375.8 L707.5,374.4 L707.9,373.2 L709.3,369.6 L709.8,367.7 L710.3,367.1 L710.7,368.0 L711.2,369.0 L712.6,367.5 L713.1,365.7 L713.5,364.2 L714.0,362.8 L714.5,361.1 L715.9,360.1 L716.3,359.8 L716.8,359.8 L717.3,360.3 L717.8,360.2 L719.2,360.7 L719.6,361.9 L720.1,363.2 L720.6,364.7 L721.0,366.7 L722.4,368.8 L722.9,370.8 L723.4,372.7 L723.8,374.4 L724.3,375.9 L725.7,377.4 L726.2,378.8 L726.6,379.7 L727.1,380.4 L727.6,381.0 L729.0,381.4 L729.5,382.0 L729.9,383.0 L730.4,383.5 L730.9,383.7 L732.3,383.4 L732.7,382.9 L733.2,382.0 L733.7,381.7 L734.1,382.1 L735.5,382.4 L736.0,382.7 L736.5,382.7 L736.9,382.3 L737.4,381.9 L738.8,380.8 L739.3,379.7 L739.8,379.2 L740.7,373.4 L742.1,371.2 L742.6,367.0 L743.0,361.1 L743.5,357.5 L744.0,352.7 L745.4,350.3 L745.8,350.8 L746.3,352.3 L746.8,352.8 L747.2,354.7 L748.7,355.6 L749.1,355.7 L749.6,357.0 L750.1,357.6 L750.5,357.6 L751.9,356.9 L752.4,357.9 L752.9,359.4 L753.3,361.1 L755.2,362.8 L755.7,364.4 L756.1,366.1 L756.6,367.5 L757.1,368.8 L758.5,370.3 L759.0,371.5 L759.4,371.1 L759.9,370.8 L760.4,371.0 L761.8,370.9 L762.2,371.2 L762.7,372.0 L763.2,371.3 L763.6,371.2 L765.5,369.2 L766.0,366.9 L766.4,364.0 L766.9,359.6 L768.3,355.0 L768.8,350.3 L769.3,345.6 L769.7,342.1 L770.2,340.4 L771.6,340.3 L772.1,341.8 L772.5,343.0 L773.0,342.9 L773.5,343.5 L774.9,344.1 L775.3,345.5 L775.8,347.4 L776.3,347.2 L776.7,345.2 L778.2,342.8 L778.6,342.1 L779.1,342.1 L779.6,340.2 L780.0,338.6 L781.9,336.7 L782.4,333.7 L782.8,331.5 L783.3,330.8 L784.7,328.9 L785.2,325.5 L785.6,324.4 L786.1,322.9 L786.6,320.8 L788.0,316.6 L788.5,313.4 L788.9,312.0 L789.4,311.8 L789.9,311.4 L791.3,310.5 L791.7,310.7 L792.2,312.5 L792.7,314.6 L793.1,317.5 L794.5,320.3 L795.0,323.1 L795.5,325.4 L795.9,328.4 L796.4,331.5 L797.8,335.0 L798.3,338.5 L798.8,341.5 L799.2,343.5 L799.7,345.9 L801.1,348.5 L801.6,349.7 L802.0,350.1" stroke="#8b8b8b" stroke-opacity="0.85" stroke-width="1.4" fill="none" stroke-linejoin="round"/>
<rect x="654.1" y="8.4" width="180.0" height="86.89999999999999" rx="2" fill="#f0f0f0" fill-opacity="0.8" stroke="#e2e2e2" stroke-width="1"/>
<path d="M658,17.8H681" stroke="#30a2da" stroke-width="1.7" fill="none"/>
<text x="699.0" y="21.4" font-size="11" fill="#2a2a2a" stroke="#2a2a2a" stroke-width="0.2" textLength="49.5" lengthAdjust="spacingAndGlyphs">VIX Price</text>
<path d="M658.2,34.6H681" stroke="#fc4f30" stroke-width="3.3" stroke-dasharray="3.3 5.1" fill="none"/>
<text x="689.8" y="38.2" font-size="11" fill="#2a2a2a" stroke="#2a2a2a" stroke-width="0.2" textLength="132.2" lengthAdjust="spacingAndGlyphs">30-day Moving Average</text>
<path d="M658.2,51.4H681" stroke="#e5ae38" stroke-width="3.3" stroke-dasharray="3.3 5.1" fill="none"/>
<text x="689.8" y="55.0" font-size="11" fill="#2a2a2a" stroke="#2a2a2a" stroke-width="0.2" textLength="132.2" lengthAdjust="spacingAndGlyphs">60-day Moving Average</text>
<path d="M658.2,68.2H681" stroke="#6d904f" stroke-width="3.3" stroke-dasharray="3.3 5.1" fill="none"/>
<text x="689.8" y="71.8" font-size="11" fill="#2a2a2a" stroke="#2a2a2a" stroke-width="0.2" textLength="139.2" lengthAdjust="spacingAndGlyphs">200-day Moving Average</text>
<path d="M658,85.0H681" stroke="#9a9a9a" stroke-width="1.4" fill="none"/>
<text x="689.8" y="88.6" font-size="11" fill="#2a2a2a" stroke="#2a2a2a" stroke-width="0.2" textLength="92.5" lengthAdjust="spacingAndGlyphs">Kalman Average</text>
<path d="M691.4,16.7L694.8,13.7L698.2,16.7" stroke="#333" stroke-width="1.05" fill="none"/>
</svg></body></html>
